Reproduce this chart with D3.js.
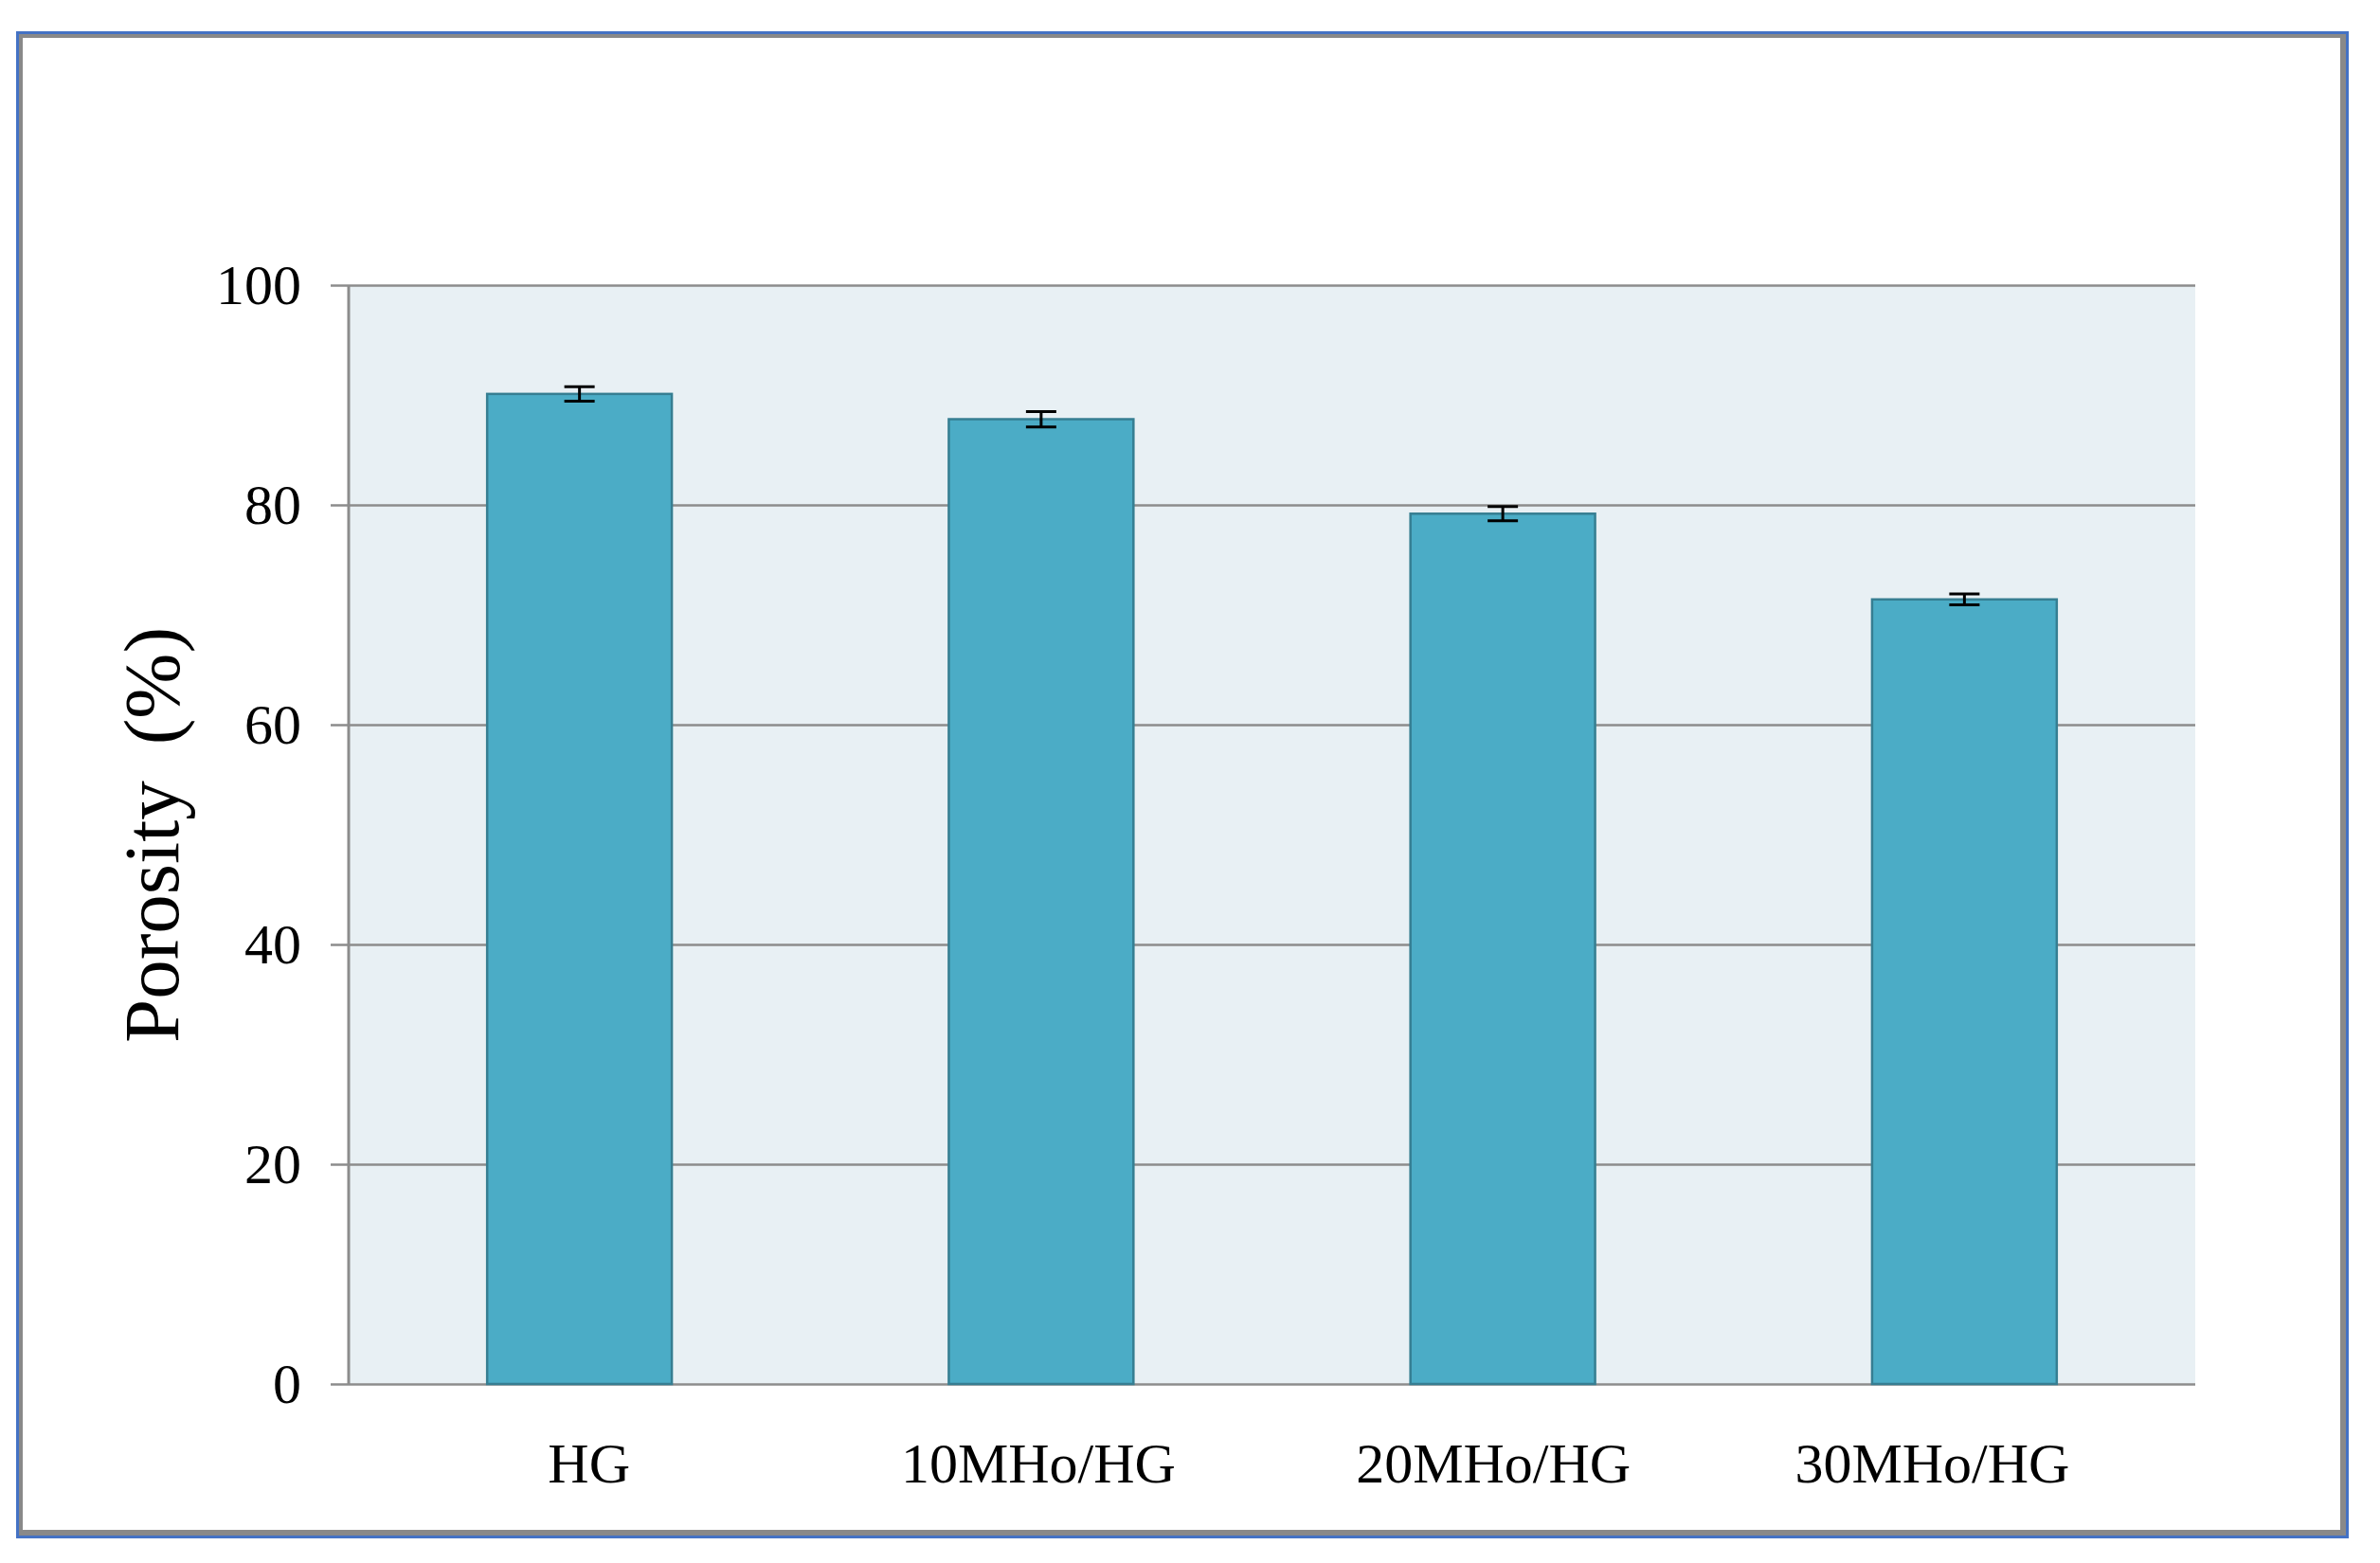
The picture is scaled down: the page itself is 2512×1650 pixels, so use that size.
<!DOCTYPE html>
<html>
<head>
<meta charset="utf-8">
<script src="https://cdn.jsdelivr.net/npm/d3@7"></script>
<style>
  body { margin: 0; background: #fff; }
  text { font-family: "Liberation Serif", "Times New Roman", serif; fill: #000; }
</style>
</head>
<body>
<svg></svg>
<script>
var svgWidth = 2512, svgHeight = 1650;

// data
var categories = ["HG", "10MHo/HG", "20MHo/HG", "30MHo/HG"];
var porosity = [90.1, 87.8, 79.2, 71.4];
var errors = [0.65, 0.7, 0.65, 0.5];
var yTicks = [0, 20, 40, 60, 80, 100];

var plot = { left: 368, right: 2317, top: 301, bottom: 1461 };
var plotW = plot.right - plot.left, plotH = plot.bottom - plot.top;

var svg = d3.select("svg")
            .attr("width", svgWidth)
            .attr("height", svgHeight);

// outer frame: blue edge, grey edge, white inside
svg.append("rect").attr("x", 17).attr("y", 33).attr("width", 2462).attr("height", 1591).attr("fill", "#4472C4");
svg.append("rect").attr("x", 20).attr("y", 36).attr("width", 2456).attr("height", 1585).attr("fill", "#898989");
svg.append("rect").attr("x", 24).attr("y", 40).attr("width", 2446).attr("height", 1575).attr("fill", "#ffffff");

var g = svg.append("g")
           .attr("transform", "translate(" + plot.left + "," + plot.top + ")");

var x = d3.scaleBand().domain(categories).range([0, plotW])
          .paddingInner(0.6).paddingOuter(0.3);
var y = d3.scaleLinear().domain([0, 100]).range([plotH, 0]);

// plot background
g.append("rect")
    .attr("width", plotW)
    .attr("height", plotH)
    .attr("fill", "#E8F0F4");

// y axis with gridlines
var yAxis = g.append("g")
    .call(d3.axisLeft(y).tickValues(yTicks).tickSize(-plotW).tickPadding(50));
yAxis.select(".domain").remove();
yAxis.selectAll(".tick line")
    .attr("x1", -19)
    .attr("stroke", "#8c8c8c")
    .attr("stroke-width", 2.5);
yAxis.selectAll(".tick text")
    .attr("font-size", 60)
    .attr("dy", "0.33em")
    .style("font-family", "Liberation Serif");

// left axis line
g.append("line")
    .attr("x1", 0).attr("x2", 0)
    .attr("y1", 0).attr("y2", plotH)
    .attr("stroke", "#8c8c8c")
    .attr("stroke-width", 3);

// bars
g.selectAll(".bar")
    .data(porosity)
    .enter().append("rect")
        .attr("class", "bar")
        .attr("x", function(d, i) { return x(categories[i]); })
        .attr("y", function(d) { return y(d); })
        .attr("width", x.bandwidth())
        .attr("height", function(d) { return plotH - y(d); })
        .attr("fill", "#4BACC6")
        .attr("stroke", "#367E92")
        .attr("stroke-width", 2.5);

// error bars
var capHalf = 16;
var err = g.selectAll(".err")
    .data(porosity)
    .enter().append("g")
        .attr("class", "err")
        .attr("transform", function(d, i) {
            return "translate(" + (x(categories[i]) + x.bandwidth() / 2) + ",0)";
        });
err.append("line")
    .attr("y1", function(d, i) { return y(d + errors[i]); })
    .attr("y2", function(d, i) { return y(d - errors[i]); })
    .attr("stroke", "#000").attr("stroke-width", 3);
err.append("line")
    .attr("x1", -capHalf).attr("x2", capHalf)
    .attr("y1", function(d, i) { return y(d + errors[i]); })
    .attr("y2", function(d, i) { return y(d + errors[i]); })
    .attr("stroke", "#000").attr("stroke-width", 3);
err.append("line")
    .attr("x1", -capHalf).attr("x2", capHalf)
    .attr("y1", function(d, i) { return y(d - errors[i]); })
    .attr("y2", function(d, i) { return y(d - errors[i]); })
    .attr("stroke", "#000").attr("stroke-width", 3);

// category labels (the original labels sit slightly off the bar centres)
var labelNudge = [10, -3, -10, -34];
var xAxis = g.append("g")
    .attr("transform", "translate(0," + plotH + ")")
    .call(d3.axisBottom(x).tickSize(0).tickPadding(0));
xAxis.select(".domain").remove();
xAxis.selectAll(".tick text")
    .attr("y", 104)
    .attr("dy", 0)
    .attr("dx", function(d, i) { return labelNudge[i]; })
    .attr("font-size", 60)
    .style("font-family", "Liberation Serif");

// axis title
var title = svg.append("text")
    .attr("transform", "translate(188,1101) rotate(-90)")
    .attr("text-anchor", "start")
    .attr("font-size", 83)
    .text("Porosity");
title.append("tspan")
    .attr("dx", 38)
    .text("(%)");
</script>
</body>
</html>
